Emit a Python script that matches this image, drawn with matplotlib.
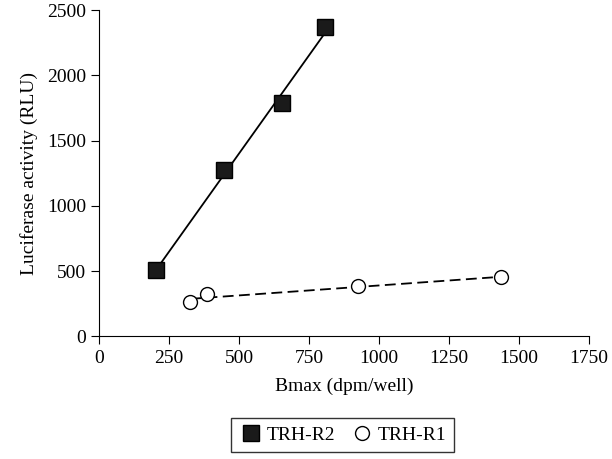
import matplotlib
matplotlib.use("Agg")
import matplotlib.pyplot as plt
import numpy as np

plt.rcParams["font.family"] = "Liberation Serif"

r2_x = [205, 446, 655, 807]
r2_y = [511, 1278, 1789, 2367]
r1_x = [326, 386, 926, 1436]
r1_y = [261, 322, 386, 452]

fig = plt.figure(figsize=(6.12, 4.59), dpi=100)
ax = fig.add_axes([0.162, 0.267, 0.80, 0.711])

for xs, ys, ls, mk, mfc, lab in [(r2_x, r2_y, "-", "s", "#1a1a1a", "TRH-R2"),
                                 (r1_x, r1_y, "--", "o", "white", "TRH-R1")]:
    p = np.polyfit(xs, ys, 1)
    fx = np.array([min(xs), max(xs)])
    ax.plot(fx, np.polyval(p, fx), ls, color="black", lw=1.3, dashes=(6, 3) if ls == "--" else (None, None))
    ax.plot(xs, ys, mk, ms=11 if mk == "s" else 10, mfc=mfc, mec="black", mew=1.0, ls="none", label=lab)

ax.set_xlim(0, 1750)
ax.set_ylim(0, 2500)
ax.set_xticks(range(0, 1751, 250))
ax.set_yticks(range(0, 2501, 500))
ax.spines["top"].set_visible(False)
ax.spines["right"].set_visible(False)
ax.tick_params(labelsize=14, direction="out", length=6)
ax.set_xlabel("Bmax (dpm/well)", fontsize=14, labelpad=8)
ax.set_ylabel("Luciferase activity (RLU)", fontsize=14, labelpad=6)

leg = fig.legend(loc="lower center", bbox_to_anchor=(0.56, -0.005), ncol=2, frameon=True,
                 fontsize=14, fancybox=False, edgecolor="black", handletextpad=0.2,
                 columnspacing=0.8, borderpad=0.4, handlelength=1.2)
leg.get_frame().set_linewidth(1.0)

fig.savefig("out.png", dpi=100)
